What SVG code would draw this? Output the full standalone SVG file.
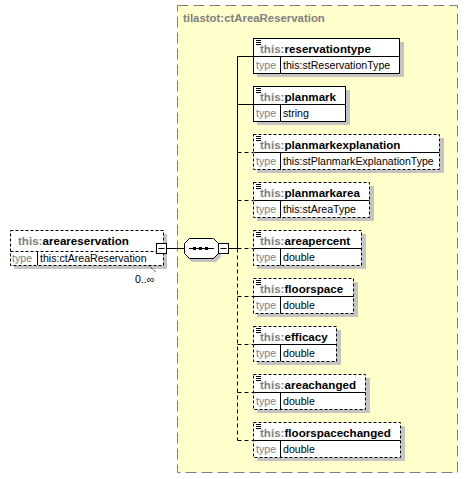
<svg xmlns="http://www.w3.org/2000/svg" width="468" height="479" viewBox="0 0 468 479">
<style>
text{font-family:"Liberation Sans",Arial,sans-serif}
.nm{font-size:11.6px;font-weight:bold;fill:#000}
.ns{fill:#808080}
.ty{font-size:10.6px;fill:#808080}
.tv{font-size:10.6px;fill:#000}
.box{fill:#fff;stroke:#000;stroke-width:1}
.opt{stroke-dasharray:3,2}
.sh{fill:#c4c4c4}
.ln{stroke:#000;stroke-width:1;fill:none}
.dl{stroke-dasharray:4,3}
.ic{stroke:#000;stroke-width:1}
</style>
<rect x="177.5" y="5.5" width="280" height="467" fill="#ffffcc" stroke="#808080" stroke-dasharray="11,5"/>
<text x="183" y="22" font-size="11.4" font-weight="bold" fill="#808080">tilastot:ctAreaReservation</text>
<g id="connectors">
<path class="ln" d="M167 248.5H184M229 248.5H237.5"/>
<path class="ln" d="M237.5 56.5V248.5M237.5 56.5H253M237.5 104.5H253"/>
<path class="ln dl" d="M237.5 248.5V440.5M237.5 152.5H253M237.5 200.5H253M237.5 248.5H253M237.5 296.5H253M237.5 344.5H253M237.5 392.5H253M237.5 440.5H253"/>
</g>
<g id="areareservation">
<rect class="sh" x="14" y="234" width="153" height="35"/>
<path d="M148 265l8 7" stroke="#000" stroke-dasharray="1,1"/>
<rect class="box opt" x="10.5" y="230.5" width="153" height="35"/>
<line class="ln opt" x1="10.5" y1="251.5" x2="163.5" y2="251.5" stroke="#808080"/>
<line class="ln" x1="37.5" y1="251.5" x2="37.5" y2="265" stroke="#808080"/>
<text class="nm" x="18" y="245"><tspan class="ns">this:</tspan>areareservation</text>
<text class="ty" x="12" y="262">type</text>
<text class="tv" x="40" y="262">this:ctAreaReservation</text>
<rect x="156.5" y="243.5" width="10" height="10" fill="#fff" stroke="#000"/>
<line class="ln" x1="158.5" y1="248.5" x2="164.5" y2="248.5"/>
<text x="135" y="283" font-size="10.6" fill="#000">0..∞</text>
</g>
<g id="sequence">
<polygon class="sh" points="192,241 216,241 221,246 221,257 216,262 192,262 187,257 187,246"/>
<polygon points="189.5,238.5 213.5,238.5 218.5,243.5 218.5,253.5 213.5,258.5 189.5,258.5 184.5,253.5 184.5,243.5" fill="#fff" stroke="#000"/>
<line class="ln" x1="189" y1="248.5" x2="214" y2="248.5"/>
<rect x="193" y="247" width="3" height="3"/>
<rect x="199" y="247" width="3" height="3"/>
<rect x="205" y="247" width="3" height="3"/>
<rect x="218.5" y="243.5" width="10" height="10" fill="#fff" stroke="#000"/>
<line class="ln" x1="220.5" y1="248.5" x2="226.5" y2="248.5"/>
</g>
<g id="reservationtype" transform="translate(253,38)">
<rect class="sh" x="4" y="4" width="147" height="35"/>
<rect class="box" x="0.5" y="0.5" width="146" height="35"/>
<line class="ln" x1="0.5" y1="18.5" x2="146.5" y2="18.5"/>
<line class="ln" x1="27.5" y1="18.5" x2="27.5" y2="35.5"/>
<path class="ic" d="M3 2.5H8M3 4.5H8M3 6.5H8"/>
<text class="nm" x="7" y="15"><tspan class="ns">this:</tspan>reservationtype</text>
<text class="ty" x="3" y="31">type</text>
<text class="tv" x="30" y="31">this:stReservationType</text>
</g>
<g id="planmark" transform="translate(253,86)">
<rect class="sh" x="4" y="4" width="93" height="35"/>
<rect class="box" x="0.5" y="0.5" width="92" height="35"/>
<line class="ln" x1="0.5" y1="18.5" x2="92.5" y2="18.5"/>
<line class="ln" x1="27.5" y1="18.5" x2="27.5" y2="35.5"/>
<path class="ic" d="M3 2.5H8M3 4.5H8M3 6.5H8"/>
<text class="nm" x="7" y="15"><tspan class="ns">this:</tspan>planmark</text>
<text class="ty" x="3" y="31">type</text>
<text class="tv" x="30" y="31">string</text>
</g>
<g id="planmarkexplanation" transform="translate(253,134)">
<rect class="sh" x="4" y="4" width="187" height="35"/>
<rect class="box opt" x="0.5" y="0.5" width="186" height="35"/>
<line class="ln" x1="0.5" y1="18.5" x2="186.5" y2="18.5" stroke="#808080"/>
<line class="ln" x1="27.5" y1="18.5" x2="27.5" y2="35.5" stroke="#808080"/>
<path class="ic" d="M3 2.5H8M3 4.5H8M3 6.5H8"/>
<text class="nm" x="7" y="15"><tspan class="ns">this:</tspan>planmarkexplanation</text>
<text class="ty" x="3" y="31">type</text>
<text class="tv" x="30" y="31">this:stPlanmarkExplanationType</text>
</g>
<g id="planmarkarea" transform="translate(253,182)">
<rect class="sh" x="4" y="4" width="117" height="35"/>
<rect class="box opt" x="0.5" y="0.5" width="116" height="35"/>
<line class="ln" x1="0.5" y1="18.5" x2="116.5" y2="18.5" stroke="#808080"/>
<line class="ln" x1="27.5" y1="18.5" x2="27.5" y2="35.5" stroke="#808080"/>
<path class="ic" d="M3 2.5H8M3 4.5H8M3 6.5H8"/>
<text class="nm" x="7" y="15"><tspan class="ns">this:</tspan>planmarkarea</text>
<text class="ty" x="3" y="31">type</text>
<text class="tv" x="30" y="31">this:stAreaType</text>
</g>
<g id="areapercent" transform="translate(253,230)">
<rect class="sh" x="4" y="4" width="109" height="35"/>
<rect class="box opt" x="0.5" y="0.5" width="108" height="35"/>
<line class="ln" x1="0.5" y1="18.5" x2="108.5" y2="18.5" stroke="#808080"/>
<line class="ln" x1="27.5" y1="18.5" x2="27.5" y2="35.5" stroke="#808080"/>
<path class="ic" d="M3 2.5H8M3 4.5H8M3 6.5H8"/>
<text class="nm" x="7" y="15"><tspan class="ns">this:</tspan>areapercent</text>
<text class="ty" x="3" y="31">type</text>
<text class="tv" x="30" y="31">double</text>
</g>
<g id="floorspace" transform="translate(253,278)">
<rect class="sh" x="4" y="4" width="101" height="35"/>
<rect class="box opt" x="0.5" y="0.5" width="100" height="35"/>
<line class="ln" x1="0.5" y1="18.5" x2="100.5" y2="18.5" stroke="#808080"/>
<line class="ln" x1="27.5" y1="18.5" x2="27.5" y2="35.5" stroke="#808080"/>
<path class="ic" d="M3 2.5H8M3 4.5H8M3 6.5H8"/>
<text class="nm" x="7" y="15"><tspan class="ns">this:</tspan>floorspace</text>
<text class="ty" x="3" y="31">type</text>
<text class="tv" x="30" y="31">double</text>
</g>
<g id="efficacy" transform="translate(253,326)">
<rect class="sh" x="4" y="4" width="84" height="35"/>
<rect class="box opt" x="0.5" y="0.5" width="83" height="35"/>
<line class="ln" x1="0.5" y1="18.5" x2="83.5" y2="18.5" stroke="#808080"/>
<line class="ln" x1="27.5" y1="18.5" x2="27.5" y2="35.5" stroke="#808080"/>
<path class="ic" d="M3 2.5H8M3 4.5H8M3 6.5H8"/>
<text class="nm" x="7" y="15"><tspan class="ns">this:</tspan>efficacy</text>
<text class="ty" x="3" y="31">type</text>
<text class="tv" x="30" y="31">double</text>
</g>
<g id="areachanged" transform="translate(253,374)">
<rect class="sh" x="4" y="4" width="113" height="35"/>
<rect class="box opt" x="0.5" y="0.5" width="112" height="35"/>
<line class="ln" x1="0.5" y1="18.5" x2="112.5" y2="18.5" stroke="#808080"/>
<line class="ln" x1="27.5" y1="18.5" x2="27.5" y2="35.5" stroke="#808080"/>
<path class="ic" d="M3 2.5H8M3 4.5H8M3 6.5H8"/>
<text class="nm" x="7" y="15"><tspan class="ns">this:</tspan>areachanged</text>
<text class="ty" x="3" y="31">type</text>
<text class="tv" x="30" y="31">double</text>
</g>
<g id="floorspacechanged" transform="translate(253,422)">
<rect class="sh" x="4" y="4" width="148" height="35"/>
<rect class="box opt" x="0.5" y="0.5" width="147" height="35"/>
<line class="ln" x1="0.5" y1="18.5" x2="147.5" y2="18.5" stroke="#808080"/>
<line class="ln" x1="27.5" y1="18.5" x2="27.5" y2="35.5" stroke="#808080"/>
<path class="ic" d="M3 2.5H8M3 4.5H8M3 6.5H8"/>
<text class="nm" x="7" y="15"><tspan class="ns">this:</tspan>floorspacechanged</text>
<text class="ty" x="3" y="31">type</text>
<text class="tv" x="30" y="31">double</text>
</g>
</svg>
